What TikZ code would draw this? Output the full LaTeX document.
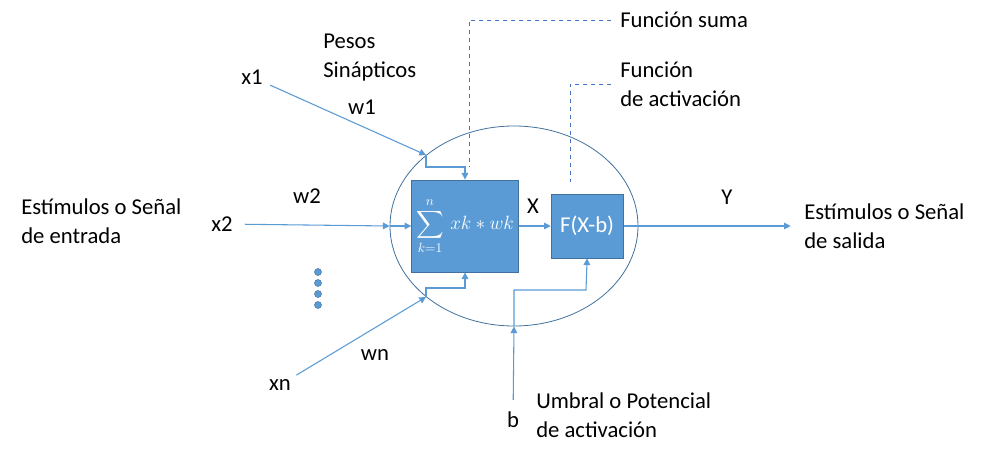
\documentclass[tikz,border=0pt]{standalone}
\usepackage{fontspec}
\setmainfont{Carlito}
\usepackage{amsmath}
\usetikzlibrary{arrows.meta,shapes.geometric,positioning}
\definecolor{nnblue}{RGB}{91,155,213}
\definecolor{nndark}{RGB}{65,113,156}
\definecolor{nnguide}{RGB}{68,114,196}
\tikzstyle{txt} = [font=\fontsize{17}{21.75}\selectfont, inner sep=0pt, align=left]
\tikzstyle{unit} = [rectangle, draw=nndark, fill=nnblue, text=white, line width=0.6pt]
\tikzstyle{signal} = [draw=nnblue, line width=0.8pt, ->, >={Triangle[length=5pt,width=5pt]}]
\tikzstyle{guide} = [draw=nnguide, dashed, line width=0.7pt]
\tikzstyle{dot} = [circle, fill=nnblue, draw=nndark, line width=0.4pt, inner sep=0pt, minimum size=5.2pt]

\begin{document}
\begin{tikzpicture}[x=0.75pt, y=-0.75pt]
\useasboundingbox (0,0) rectangle (1004,453);

% Neuron body
\node (neuron) [ellipse, draw=nndark, line width=0.6pt, inner sep=0pt, minimum width=186pt, minimum height=150pt] at (514,226) {};
\node (sumbox) [unit, minimum width=79.5pt, minimum height=69pt, font=\fontsize{14}{17}\selectfont] at (465,226) {$\displaystyle\sum_{k=1}^{n}\,xk * wk$};
\node (actbox) [unit, right=24pt of sumbox, minimum width=54pt, minimum height=48pt, font=\fontsize{17}{21.75}\selectfont] {F(X-b)};

% Inputs
\node (x1) [txt] at (252,77) {x1};
\node (x2) [txt] at (222,224) {x2};
\node (xn) [txt] at (280,385) {xn};
\node (w1) [txt] at (362,107) {w1};
\node (w2) [txt] at (307,196) {w2};
\node (wn) [txt] at (375,355) {wn};
\node (pesos) [txt, anchor=west] at (323,58) {Pesos\\Sinápticos};
\node (entrada) [txt, anchor=west] at (21,221) {Estímulos o Señal\\de entrada};
\node (b) [txt] at (513,420) {b};
\node (umbral) [txt, anchor=west] at (536,415) {Umbral o Potencial\\de activación};
\node (xlab) [txt] at (533,206) {X};
\node (ylab) [txt] at (727,197) {Y};
\node (salida) [txt, anchor=west] at (804,226) {Estímulos o Señal\\de salida};
\node (sumtxt) [txt, anchor=west] at (620,20) {Función suma};
\node (acttxt) [txt, anchor=west] at (620,84) {Función\\de activación};

% Dots
\node (d1) [dot] at (318,272) {};
\node (d2) [dot] at (318,283) {};
\node (d3) [dot] at (318,294) {};
\node (d4) [dot] at (318,305) {};

% Junctions
\coordinate (in1) at (426,155);
\coordinate (inn) at (426,297);
\coordinate (k1) at (465,167);
\coordinate (kn) at (465,288);
\coordinate (kb) at (586,290);
\coordinate (gs) at (469,167);
\coordinate (ga) at (570,182);

% Arrows
\draw[signal, shorten <=6pt] (x1) -- (in1);
\draw[signal] (in1) |- (k1) -- (sumbox.north);
\draw[signal, shorten <=9pt] (x2) -- (neuron.west);
\draw[signal] (neuron.west) -- (sumbox.west);
\draw[signal, shorten <=6pt] (xn) -- (inn);
\draw[signal] (inn) |- (kn) -- (sumbox.south);
\draw[signal] (sumbox) -- (actbox);
\draw[signal, shorten <=9pt] (b) -- (neuron.south);
\draw[signal] (neuron.south) |- (kb) -- (actbox.south);
\draw[signal] (actbox) -- ([xshift=-10pt]salida.west);

% Callouts
\draw[guide] ([xshift=-7pt]sumtxt.west) -| (gs);
\draw[guide] ([xshift=-7pt]acttxt.west) -| (ga);
\end{tikzpicture}
\end{document}
